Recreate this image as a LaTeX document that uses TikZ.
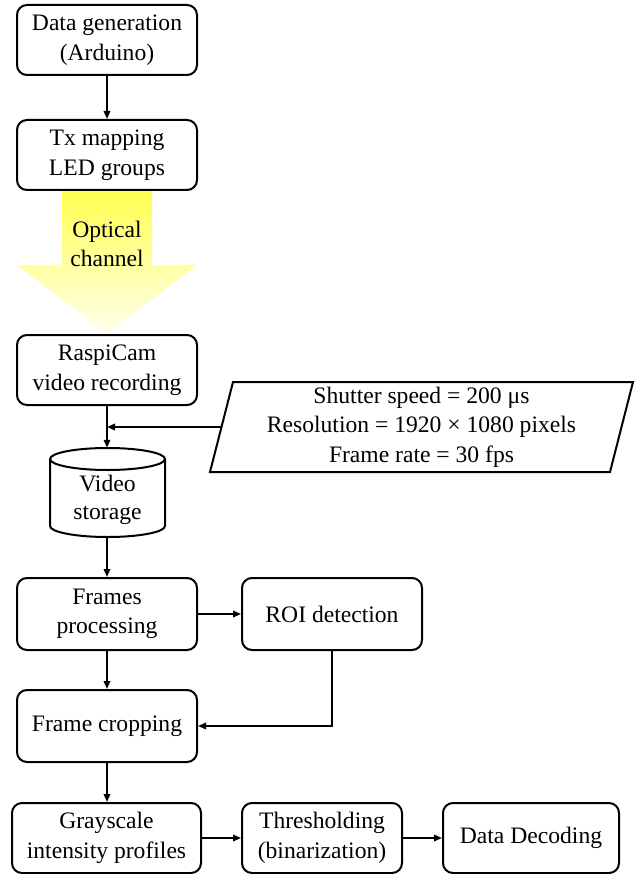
\documentclass[tikz,border=0pt]{standalone}
\usepackage{fontspec}
\setmainfont{Liberation Serif}
\usetikzlibrary{arrows.meta}
\definecolor{ytop}{RGB}{255,255,80}
\definecolor{ybot}{RGB}{255,255,238}
\tikzset{
  box/.style={draw, line width=2pt, rounded corners=10pt, minimum width=180pt, minimum height=70pt, align=center, inner sep=0pt, fill=white},
  arr/.style={line width=1.8pt, -{Triangle[length=8pt,width=6.5pt]}},
  txt/.style={font=\fontsize{23.6}{29.5}\selectfont}
}
\begin{document}
\begin{tikzpicture}[x=1pt,y=-1pt, every node/.style={txt}]
\useasboundingbox (0,0) rectangle (644,874);
% optical channel arrow
\shade[top color=ytop, bottom color=ybot] (62,190) -- (152,190) -- (152,265) -- (197,265) -- (107,334) -- (17,265) -- (62,265) -- cycle;
\node[align=center] (opt) at (107,244) {Optical\\channel};
% boxes
\node[box] (gen) at (107,40) {Data generation\\(Arduino)};
\node[box] (tx) at (107,155) {Tx mapping\\LED groups};
\node[box] (cam) at (107,370) {RaspiCam\\video recording};
% parameters parallelogram
\draw[line width=2pt, fill=white] (233,382) -- (633,382) -- (610,472) -- (210,472) -- cycle;
\node[align=center] (params) at (421.5,427) {Shutter speed = 200 μs\\Resolution = 1920 × 1080 pixels\\Frame rate = 30 fps};
\coordinate (pl) at (221.5,427);
% cylinder
\node[minimum width=115pt, minimum height=89pt, inner sep=0pt] (store) at (107,492.5) {};
\draw[line width=2pt, fill=white] (50,459) -- (50,526) arc[start angle=180, end angle=0, x radius=57.5, y radius=11] -- (165,459);
\draw[line width=2pt, fill=white] (107.5,459) ellipse [x radius=57.5, y radius=11];
\node[align=center, font=\fontsize{23.6}{28}\selectfont] (storetxt) at (107.5,500) {Video\\storage};
\node[box] (frames) at (107,614) [minimum height=72pt] {Frames\\processing};
\node[box] (roi) at (332,614) [minimum height=72pt] {ROI detection};
\node[box] (crop) at (107,726) [minimum height=72pt] {Frame cropping};
\node[box, minimum width=189pt] (gray) at (106.5,838) {Grayscale\\intensity profiles};
\node[box, minimum width=160pt] (thr) at (322,838) {Thresholding\\(binarization)};
\node[box, minimum width=176pt] (dec) at (531,838) {Data Decoding};
% connectors
\draw[arr] (gen) -- (tx);
\draw[arr] (cam) -- (store.north -| cam.south);
\draw[arr] (pl) -- (pl -| cam.south);
\draw[arr] (store.south -| frames.north) -- (frames.north);
\draw[arr] (frames) -- (roi);
\draw[arr] (frames) -- (crop);
\draw[arr] (roi.south) |- (crop.east);
\draw[arr] (crop) -- (gray.north -| crop.south);
\draw[arr] (gray) -- (thr);
\draw[arr] (thr) -- (dec);
\end{tikzpicture}
\end{document}
